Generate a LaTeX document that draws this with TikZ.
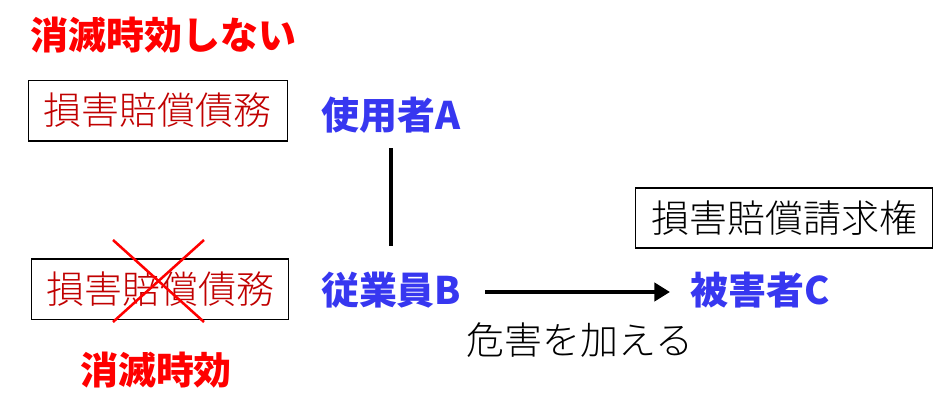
\documentclass[tikz,border=0pt]{standalone}
\usepackage{fontspec}
\setmainfont{Noto Sans CJK JP}
\newfontfamily\lightfont{Noto Sans CJK JP Light}
\usepackage{tikz}
\usetikzlibrary{arrows.meta,positioning,calc}
\definecolor{keyred}{RGB}{255,0,0}
\definecolor{boxred}{RGB}{192,0,0}
\definecolor{partyblue}{RGB}{55,55,240}

\begin{document}
\begin{tikzpicture}[>=Triangle, font=\fontsize{27}{30}\selectfont\lightfont,
  party/.style={text=partyblue,font=\fontsize{27}{30}\selectfont\bfseries},
  note/.style={text=keyred,font=\fontsize{27}{30}\selectfont\bfseries},
  claimbox/.style={draw,line width=0.8pt,minimum height=1.52cm,inner xsep=0.3cm},
  bar/.style={line width=2.8pt}]
  \useasboundingbox (0,0) rectangle (23.5,10.425);
  \node[note] (keep) at (4.09,9.55) {消滅時効しない};
  \node[claimbox,text=boxred,minimum width=6.475cm] (debt1) at (3.94,7.66) {損害賠償債務};
  \node[claimbox,text=boxred,minimum width=6.425cm] (debt2) at (4.01,3.19) {損害賠償債務};
  \node[note] (lapse) at (3.9,1.175) {消滅時効};
  \node[party] (a) at (9.78,7.55) {使用者A};
  \node[party] (b) at (9.78,3.175) {従業員B};
  \node[party] (c) at (19.0,3.175) {被害者C};
  \node[claimbox,minimum width=7.425cm,minimum height=1.5cm] (right) at (19.61,4.975) {損害賠償請求権};
  \node (harm) at (14.5,1.925) {危害を加える};
  % A - B
  \draw[bar,shorten <=0.83cm,shorten >=1.1cm] (a.center) -- (b.center);
  % B -> C
  \draw[bar,->,shorten <=2.35cm,shorten >=2.25cm] ([yshift=-0.05cm]b.center) -- ([yshift=-0.05cm]c.center);
  % cross over the lapsed debt
  \coordinate (xa) at (2.825,4.425);
  \coordinate (xb) at (5.1,2.375);
  \coordinate (xc) at (5.1,4.425);
  \coordinate (xd) at (2.825,2.375);
  \draw[keyred,line width=1.8pt] (xa) -- (xb) (xc) -- (xd);
\end{tikzpicture}
\end{document}
